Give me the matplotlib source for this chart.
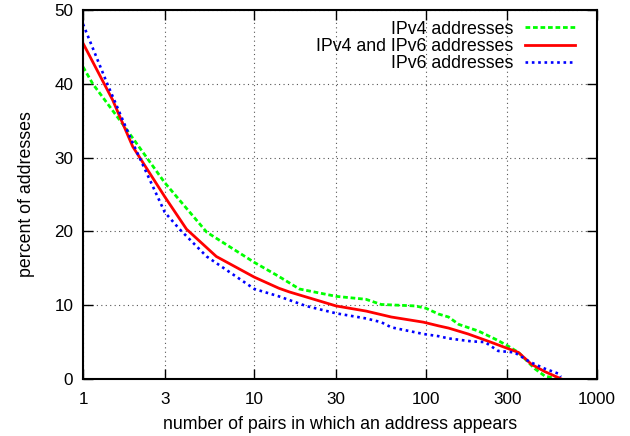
import matplotlib
matplotlib.use('Agg')
import matplotlib.pyplot as plt
from matplotlib.ticker import FixedLocator, FixedFormatter, NullLocator

plt.rcParams['font.family'] = ['Liberation Sans', 'DejaVu Sans']

# values
ipv4_x = [1, 1.14, 1.71, 3, 5.27, 10, 13.9, 18.3, 30, 44.8, 55, 87, 100, 119, 136,
          156, 203, 255, 296, 348, 433, 496, 590]
ipv4_y = [42.3, 40, 34.5, 26.6, 19.9, 15.8, 13.9, 12.2, 11.2, 10.8, 10.1, 9.9, 9.6, 8.8, 8.4,
          7.4, 6.5, 5.4, 4.6, 3.6, 1.4, 0.4, 0]

both_x = [1, 1.49, 1.95, 3, 4.02, 6.0, 10, 13.9, 16, 30, 45, 63, 97, 119, 136,
          177, 233, 296, 348, 414, 496, 620]
both_y = [45.5, 37.8, 31.5, 24.7, 20.3, 16.6, 13.8, 12.3, 11.8, 9.9, 9.2, 8.4, 7.7, 7.2, 6.9,
          6.1, 5.1, 4.2, 3.6, 2.0, 1.0, 0]

ipv6_x = [1, 1.38, 1.88, 3, 3.66, 5.27, 10, 13.9, 20, 30, 45, 55, 63, 97, 119, 136,
          185, 222, 265, 330, 407, 496, 600, 615]
ipv6_y = [48.1, 40.1, 32.8, 22.6, 20.3, 16.6, 12.2, 11.2, 9.9, 8.9, 8.2, 7.7, 7.0, 6.1, 5.8, 5.5,
          5.1, 5.0, 3.8, 3.6, 2.3, 1.4, 0.7, 0.3]

xticks = [1, 3, 10, 30, 100, 300, 1000]
xlabels = ['1', '3', '10', '30', '100', '300', '1000']
yticks = [0, 10, 20, 30, 40, 50]

fig = plt.figure(figsize=(6.3, 4.36), dpi=100)
ax = fig.add_axes([83 / 630, 1 - 379 / 436, (597 - 83) / 630, (379 - 10) / 436])

ax.plot(ipv4_x, ipv4_y, color='#00ff00', lw=2, dashes=(1.7, 1.0), label='IPv4 addresses')
ax.plot(both_x, both_y, color='#ff0000', lw=2, label='IPv4 and IPv6 addresses')
ax.plot(ipv6_x, ipv6_y, color='#0000ff', lw=1.9, dashes=(1, 1.4), label='IPv6 addresses')

ax.set_xscale('log')
ax.set_xlim(1, 1000)
ax.set_ylim(0, 50)
ax.xaxis.set_major_locator(FixedLocator(xticks))
ax.xaxis.set_major_formatter(FixedFormatter(xlabels))
ax.xaxis.set_minor_locator(NullLocator())
ax.set_yticks(yticks)

ax.grid(True, color='#555555', lw=0.8, linestyle=(0, (1, 3)))
ax.tick_params(direction='in', length=7, width=1, top=True, right=True, labelsize=12.3)
ax.tick_params(axis='x', pad=9)
ax.tick_params(axis='y', pad=7)
for s in ax.spines.values():
    s.set_linewidth(1.5)

ax.set_xlabel('number of pairs in which an address appears', fontsize=12.8, labelpad=6.5)
ax.set_ylabel('percent of addresses', fontsize=12.8, labelpad=14)

ax.legend(loc='upper right', frameon=False, markerfirst=False, fontsize=12.8,
          handlelength=2.8, handletextpad=0.67, labelspacing=0.02,
          borderpad=0, borderaxespad=0, bbox_to_anchor=(0.957, 0.971))

fig.savefig('out.png', dpi=100)
